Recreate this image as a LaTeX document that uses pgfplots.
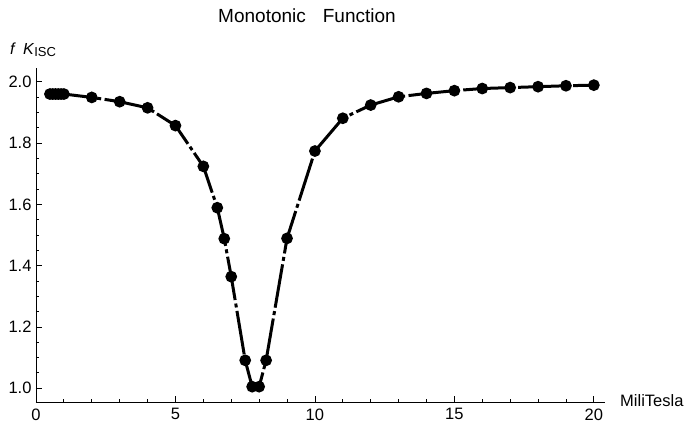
\documentclass[border=0pt]{standalone}
\usepackage{fontspec}
\setmainfont{Liberation Sans}
\usepackage{pgfplots}
\pgfplotsset{compat=1.18}
\begin{document}
\begin{tikzpicture}
\begin{axis}[
  scale only axis, width=569pt, height=334pt,
  xmin=0, xmax=20.4, ymin=0.955, ymax=2.045,
  axis lines=left, axis line style={-, line width=0.9pt},
  tick align=inside,
  xtick={0,5,10,15,20}, minor x tick num=4,
  ytick={1.0,1.2,1.4,1.6,1.8,2.0}, minor y tick num=3,
  major tick length=6pt, minor tick length=3pt,
  tick style={black, line width=0.8pt},
  yticklabel style={/pgf/number format/fixed, /pgf/number format/fixed zerofill, /pgf/number format/precision=1, xshift=-1pt},
  xticklabel style={yshift=-3pt},
  ticklabel style={font=\fontsize{16.5}{16.5}\selectfont},
  /pgf/number format/assume math mode=true,
  clip=false,
]
\addplot[black, line width=3pt, dash pattern=on 44pt off 3.5pt on 4pt off 3.5pt,
  mark=*, mark size=4.3pt, mark options={solid}] coordinates {
(0.5,1.96) (0.6,1.96) (0.7,1.96) (0.8,1.96) (0.9,1.96) (1.0,1.96)
(2,1.949) (3,1.935) (4,1.915) (5,1.857) (6,1.724) (6.5,1.589) (6.75,1.488)
(7,1.364) (7.5,1.091) (7.75,1.005) (8,1.005) (8.25,1.091) (9,1.489)
(10,1.774) (11,1.881) (12,1.924) (13,1.951) (14,1.962) (15,1.971)
(16,1.978) (17,1.981) (18,1.984) (19,1.987) (20,1.989)
};
\coordinate (bl) at (rel axis cs:0,0);
\end{axis}
\node[anchor=center, font=\fontsize{19}{19}\selectfont] at ([shift={(271pt,386pt)}]bl) {Monotonic\hspace{17pt}Function};
\node[anchor=west, inner sep=0pt, font=\fontsize{16}{16}\selectfont] at ([shift={(-26pt,352pt)}]bl) {\textit{f}\hspace{7pt}\textit{K}\raisebox{-1.5pt}{\fontsize{13}{13}\selectfont ISC}};
\node[anchor=west, inner sep=0pt, font=\fontsize{16.5}{16.5}\selectfont] at ([shift={(584pt,1pt)}]bl) {MiliTesla};
\pgfresetboundingbox
\path (bl) ++(-36pt,-25pt) rectangle ++(686pt,427pt);
\end{tikzpicture}
\end{document}
